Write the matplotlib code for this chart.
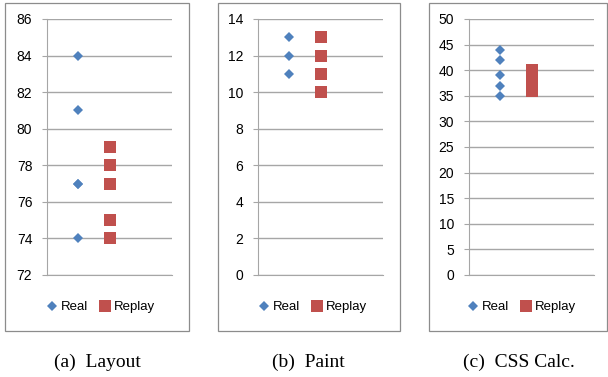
import matplotlib
matplotlib.use("Agg")
import matplotlib.pyplot as plt
from matplotlib.patches import Rectangle

# per-metric timings, real browser vs. replay
panels = ["(a)  Layout", "(b)  Paint", "(c)  CSS Calc."]
real_layout = [84, 81, 77, 77, 74]
replay_layout = [79, 78, 77, 75, 74]
real_paint = [13, 12, 11]
replay_paint = [13, 12, 11, 10]
real_css = [44, 42, 39, 37, 35]
replay_css = [40, 39, 38, 37, 36]

y_ranges = [(72, 86, 2), (0, 14, 2), (0, 50, 5)]
series = [(real_layout, replay_layout), (real_paint, replay_paint), (real_css, replay_css)]

BLUE = "#4F81BD"
RED = "#C0504D"
GRID = "#A6A6A6"

W, H = 608, 377
fig = plt.figure(figsize=(W / 100, H / 100), dpi=100)

ax_left = [47, 258, 469]
box_x = [(5, 189), (218, 400), (429, 607)]
caption_x = [97, 308, 519]

for i in range(3):
    # outer chart frame
    x0, x1 = box_x[i]
    fig.patches.append(Rectangle((x0 / W, 1 - 331 / H), (x1 - x0) / W, (331 - 3) / H,
                                 transform=fig.transFigure, fill=False,
                                 edgecolor="#8C8C8C", linewidth=0.9))

    ax = fig.add_axes([ax_left[i] / W, 1 - 275 / H, 125 / W, 256 / H])
    lo, hi, step = y_ranges[i]
    real, replay = series[i]
    ax.plot([1] * len(real), real, linestyle="none", marker="D", markersize=5.5,
            color=BLUE, markeredgewidth=0, label="Real", clip_on=False, zorder=3)
    ax.plot([2] * len(replay), replay, linestyle="none", marker="s", markersize=8.5,
            color=RED, markeredgewidth=0, label="Replay", clip_on=False, zorder=3)

    ax.set_xlim(0, 4)
    ax.set_ylim(lo, hi)
    ax.set_yticks(range(lo, hi + 1, step))
    ax.set_xticks([])
    ax.yaxis.grid(True, color=GRID, linewidth=1.0)
    ax.set_axisbelow(True)
    for s in ["top", "right"]:
        ax.spines[s].set_visible(False)
    ax.spines["left"].set_color(GRID)
    ax.spines["bottom"].set_color(GRID)
    ax.tick_params(axis="y", length=3.6, color=GRID, labelsize=10, pad=7,
                   labelcolor="#000000")
    for lab in ax.get_yticklabels():
        lab.set_family("Liberation Sans")

    cx = (x0 + x1) / 2 / W
    fig.legend(handles=ax.get_lines(), loc="center", bbox_to_anchor=(cx + 4 / W, 1 - 307 / H),
               ncol=2, frameon=False, prop={"family": "Liberation Sans", "size": 9.5},
               handlelength=0.8, handletextpad=0.25, columnspacing=0.9, borderaxespad=0)

    fig.text(caption_x[i] / W, 1 - 362 / H, panels[i], ha="center", va="center",
             family="Liberation Serif", fontsize=14)

fig.savefig("out.png", dpi=100)
